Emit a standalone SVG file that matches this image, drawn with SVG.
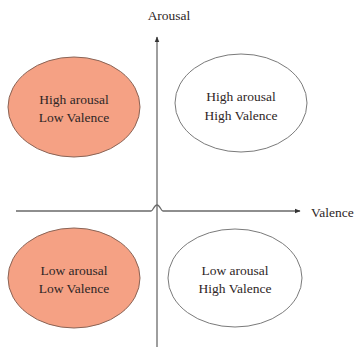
<svg xmlns="http://www.w3.org/2000/svg" width="355" height="347" viewBox="0 0 355 347">
<style>
.lbl{font-family:"Liberation Serif","DejaVu Serif","Times New Roman",serif;font-size:13.5px;fill:#2e2626;text-anchor:middle}
.ax{font-family:"Liberation Serif","DejaVu Serif","Times New Roman",serif;font-size:13.5px;fill:#2e2626}
.hot{fill:#f5a184;stroke:#8a6456;stroke-width:1}
.cool{fill:#ffffff;stroke:#7a7a7a;stroke-width:1}
.axis{fill:none;stroke:#6a6a6a;stroke-width:1.3}
</style>
<defs>
<marker id="arr" viewBox="0 0 10 10" refX="9" refY="5" markerWidth="6" markerHeight="6" orient="auto" markerUnits="userSpaceOnUse">
<path d="M0,1 L10,5 L0,9 Z" fill="#333"/>
</marker>
</defs>
<rect width="355" height="347" fill="#ffffff"/>
<g id="connectors">
<path class="axis" d="M157,347 V37" marker-end="url(#arr)"/>
<path class="axis" d="M16,211 H151 C153,211 154,205 157,205 C160,205 161,211 163,211 H300" marker-end="url(#arr)"/>
</g>
<text class="ax" x="169" y="20" text-anchor="middle">Arousal</text>
<text class="ax" x="311" y="217">Valence</text>
<g id="hal">
<ellipse class="hot" cx="74" cy="107" rx="66" ry="50"/>
<text class="lbl" x="74" y="104">High arousal</text>
<text class="lbl" x="74" y="122">Low Valence</text>
</g>
<g id="hah">
<ellipse class="cool" cx="241" cy="103" rx="66" ry="49"/>
<text class="lbl" x="241" y="101">High arousal</text>
<text class="lbl" x="241" y="120">High Valence</text>
</g>
<g id="lal">
<ellipse class="hot" cx="74" cy="278" rx="66" ry="50"/>
<text class="lbl" x="74" y="275">Low arousal</text>
<text class="lbl" x="74" y="293">Low Valence</text>
</g>
<g id="lah">
<ellipse class="cool" cx="235" cy="278" rx="67" ry="49"/>
<text class="lbl" x="235" y="275">Low arousal</text>
<text class="lbl" x="235" y="293">High Valence</text>
</g>
</svg>
